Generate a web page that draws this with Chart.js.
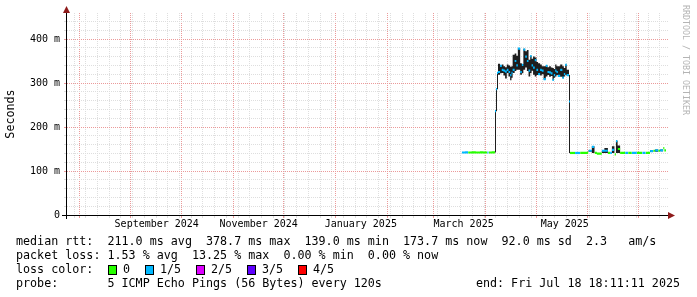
<!DOCTYPE html>
<html>
<head>
<meta charset="utf-8">
<script src="https://cdn.jsdelivr.net/npm/chart.js@4.4.1/dist/chart.umd.min.js"></script>
<style>
    body { margin: 0; background: #fff; overflow: hidden; }
    #cornice { position: relative; width: 697px; height: 297px; font-family: 'DejaVu Sans Mono', monospace; color: #000; overflow: hidden; }
    #grafico { position: absolute; left: 0; top: 0; }
    .riga { position: absolute; font-size: 11.7px; line-height: 14px; white-space: pre; }
    .quadro { position: absolute; width: 7px; height: 8px; border: 1px solid #000; }
    #marca { position: absolute; left: 681px; top: 5px; writing-mode: vertical-rl; font-size: 8.3px; line-height: 10px; color: #b4b4b4; white-space: pre; }
</style>
</head>
<body>
<div id="cornice">
    <canvas id="grafico" width="697" height="297"></canvas>
    <div id="marca">RRDTOOL / TOBI OETIKER</div>
    <div class="riga" style="left:16px; top:234px;">median rtt:  211.0 ms avg  378.7 ms max  139.0 ms min  173.7 ms now  92.0 ms sd  2.3   am/s</div>
    <div class="riga" style="left:16px; top:248px;">packet loss: 1.53 % avg  13.25 % max  0.00 % min  0.00 % now</div>
    <div class="riga" style="left:16px; top:262px;">loss color:</div>
    <div id="legendaPerdite"></div>
    <div class="riga" style="left:16px; top:276px;">probe:       5 ICMP Echo Pings (56 Bytes) every 120s</div>
    <div class="riga" style="right:17px; top:276px;">end: Fri Jul 18 18:11:11 2025</div>
</div>
<script>
// Giorni contati dal 1 gennaio 2025 (negativi = 2024)
const giorni = [
    75.6, 77.6, 79.4, 81.5, 84.0, 86.5, 88.6, 90.8, 91.7, 93.5, 95.46, 96.06, 96.66,
    97.25, 98.5, 99.5, 100.5, 101.5, 102.5, 103.5, 104.5, 105.3, 106.0, 107.2, 108.2, 109.1, 110.5, 111.5,
    112.4, 113.5, 114.5, 115.5, 116.5, 117.3, 118.2, 119.2, 120.2, 121.2, 122.4, 123.4, 124.5, 125.8,
    126.8, 127.8, 128.8, 129.8, 130.6, 131.4, 132.2, 133.0, 134.4, 135.7, 136.6, 137.4, 138.3, 139.66,
    140.26, 143.3, 146.3, 151.3, 153.3, 154.9, 156.3, 159.3, 160.8, 162.9, 164.2, 165.3, 166.8, 167.7,
    168.7, 170.2, 173.2, 175.0, 177.2, 180.2, 183.4, 185.5, 188.1, 190.0, 191.1, 193.0, 194.1, 195.9, 196.6, 197.6
];
// RTT mediano (ms)
const mediana = [
    142, 142.5, 142, 142.5, 142, 142.5, 142, 142, 142, 142.5, 236, 286, 323,
    325, 339, 330, 328, 326, 330, 325, 318, 323, 330, 350, 340, 378, 325, 341,
    376, 360, 350, 328, 361, 340, 335, 352, 330, 320, 330, 328, 309, 339,
    325, 324, 322, 307, 318, 328, 325, 316, 330, 312, 320, 341, 318, 258,
    141, 141, 141, 146, 155, 141, 139.5, 146, 146, 141, 141, 148, 138, 168,
    150, 141, 141, 141, 141, 141, 141, 141, 145, 146, 147, 146, 147, 152, 147, 148
];
// "fumo": ping minimo e massimo nell'intervallo (ms)
const fumoMin = [
    142, 142.5, 142, 142.5, 142, 142.5, 142, 142, 142, 142.5, 142, 236, 286,
    319, 322, 323, 317, 310, 323, 315, 306, 312, 323, 327, 330, 330, 319, 322,
    330, 335, 327, 315, 323, 328, 319, 315, 318, 319, 317, 320, 308, 315,
    318, 314, 316, 306, 312, 315, 318, 315, 314, 311, 315, 319, 316, 141,
    141, 141, 141, 144, 141, 141, 139.5, 141, 141, 141, 141, 141, 138, 141,
    141, 141, 141, 141, 141, 141, 141, 141, 143, 146, 144, 146, 145, 152, 147, 148
];
const fumoMax = [
    142, 142.5, 142, 142.5, 142, 142.5, 142, 142, 142, 142.5, 236, 286, 323,
    344, 340, 342, 338, 336, 342, 340, 337, 338, 364, 367, 362, 379, 345, 343,
    378, 372, 375, 353, 362, 355, 360, 358, 348, 345, 342, 338, 338, 340,
    336, 338, 335, 334, 332, 342, 338, 338, 342, 338, 334, 342, 330, 318,
    141, 141, 141, 147, 156, 141, 139.5, 147, 152, 141, 141, 156, 138, 169,
    158, 141, 141, 141, 141, 141, 141, 141, 147, 146, 149, 146, 149, 152, 147, 148
];
// Ping persi su 5
const perdite = [
    1, 1, 0, 0, 0, 0, 0, 1, 0, 0, 1, 1, 1,
    1, 1, 1, 1, 1, 1, 1, 1, 1, 1, 1, 1, 1, 1, 1,
    1, 1, 1, 1, 1, 1, 1, 1, 1, 1, 1, 1, 1, 1,
    1, 1, 1, 1, 1, 1, 1, 1, 1, 1, 1, 1, 1, 1,
    0, 1, 0, 1, 1, 0, 0, 1, 1, 0, 1, 1, 0, 1,
    0, 0, 1, 0, 1, 0, 1, 0, 1, 0, 1, 0, 1, 0, 0, 0
];

const coloriPerdita = ['#26ff00', '#00b8ff', '#dd00ff', '#5e00ff', '#ff0000'];
const etichettePerdita = ['0', '1/5', '2/5', '3/5', '4/5'];

// Asse x
const inizioMesi = [-153, -122, -92, -61, -31, 0, 31, 59, 90, 120, 151, 181];
const etichetteMesi = ['September 2024', 'November 2024', 'January 2025', 'March 2025', 'May 2025'];
const posEtichette = [-106.6, -45.7, 15.3, 76.7, 137.1];
const xMin = -160.2;
const xMax = 198.8;

// Asse y
const yTacche = [0, 100, 200, 300, 400];
const yEtichette = ['0', '100 m', '200 m', '300 m', '400 m'];
const yMax = 459.1;

const GRIGLIA = '#dedede';
const GRIGLIA_MAGG = '#eb9a9a';
const SPESSORE_MEDIANA = 2.5; // meta altezza della banda mediana, ms

// Legenda dei colori di perdita
const legenda = document.getElementById('legendaPerdite');
const posQuadri = [108, 145, 196, 247, 298];
posQuadri.forEach((x, i) => {
    const q = document.createElement('div');
    q.className = 'quadro';
    q.style.left = x + 'px';
    q.style.top = '265px';
    q.style.background = coloriPerdita[i];
    legenda.appendChild(q);
    const t = document.createElement('div');
    t.className = 'riga';
    t.style.left = (x + 15) + 'px';
    t.style.top = '262px';
    t.textContent = etichettePerdita[i];
    legenda.appendChild(t);
});

// Tacche asse x: settimane (lunedi), inizio mese, etichette a meta mese
const taccheX = [];
for (let d = -156; d <= xMax; d += 7) taccheX.push({ value: d, tipo: 'min' });
inizioMesi.forEach(d => taccheX.push({ value: d, tipo: 'magg' }));
posEtichette.forEach((d, i) => taccheX.push({ value: d, tipo: 'etich', testo: etichetteMesi[i] }));
taccheX.sort((a, b) => a.value - b.value);

const taccheY = [];
for (let v = 0; v <= 440; v += 20) taccheY.push({ value: v });

function coloreX(ctx) {
    if (!ctx.tick) return 'transparent';
    if (ctx.tick.tipo === 'magg') return GRIGLIA_MAGG;
    if (ctx.tick.tipo === 'min') return GRIGLIA;
    return 'transparent';
}
function coloreY(ctx) {
    if (!ctx.tick) return 'transparent';
    return ctx.tick.value % 100 === 0 ? GRIGLIA_MAGG : GRIGLIA;
}

const punti = arr => giorni.map((g, i) => ({ x: g, y: arr[i] }));

// Assi neri con le frecce rosse, come rrdtool
const assi = {
    id: 'assi',
    afterDatasetsDraw(chart) {
        const { ctx, chartArea } = chart;
        const y0 = Math.round(chart.scales.y.getPixelForValue(0)) + 0.5;
        const x0 = chartArea.left - 0.5;
        ctx.save();
        ctx.strokeStyle = '#000';
        ctx.lineWidth = 1;
        ctx.beginPath();
        ctx.moveTo(62, y0);
        ctx.lineTo(670, y0);
        ctx.moveTo(x0, 219);
        ctx.lineTo(x0, 11);
        ctx.stroke();
        ctx.fillStyle = '#8e1b1b';
        ctx.beginPath();
        ctx.moveTo(668, y0 - 3.5);
        ctx.lineTo(675, y0);
        ctx.lineTo(668, y0 + 3.5);
        ctx.closePath();
        ctx.fill();
        ctx.beginPath();
        ctx.moveTo(x0 - 3.5, 13);
        ctx.lineTo(x0, 6);
        ctx.lineTo(x0 + 3.5, 13);
        ctx.closePath();
        ctx.fill();
        ctx.restore();
    }
};

Chart.defaults.font.family = "'DejaVu Sans Mono', monospace";
Chart.defaults.color = '#000';

const invisibile = { stepped: true, borderWidth: 0, borderColor: 'transparent', pointRadius: 0 };

new Chart(document.getElementById('grafico').getContext('2d'), {
    type: 'line',
    data: {
        datasets: [
            // banda della mediana, colorata secondo la perdita (come smokeping)
            Object.assign({ label: 'mediana sotto', data: punti(mediana.map(v => v - SPESSORE_MEDIANA)), fill: false, order: 0 }, invisibile),
            Object.assign({
                label: 'median rtt',
                data: punti(mediana.map(v => v + SPESSORE_MEDIANA)),
                fill: '-1',
                backgroundColor: coloriPerdita[0],
                order: 0,
                segment: { backgroundColor: ctx => coloriPerdita[perdite[ctx.p0DataIndex]] }
            }, invisibile),
            // fumo
            Object.assign({ label: 'fumo min', data: punti(fumoMin), fill: false, order: 1 }, invisibile),
            Object.assign({ label: 'fumo max', data: punti(fumoMax), fill: '-1', backgroundColor: '#1e1e1e', order: 1 }, invisibile)
        ]
    },
    options: {
        responsive: false,
        animation: false,
        devicePixelRatio: 1,
        layout: { padding: { top: 13, right: 29, left: 0, bottom: 0 } },
        plugins: {
            legend: { display: false },
            tooltip: { enabled: false }
        },
        scales: {
            x: {
                type: 'linear',
                min: xMin,
                max: xMax,
                afterBuildTicks: scale => { scale.ticks = taccheX.map(t => Object.assign({}, t)); },
                afterFit: scale => { scale.height = 82; },
                grid: { color: coloreX, tickColor: coloreX, tickLength: 3, lineWidth: 1 },
                border: { display: false, dash: [1, 1] },
                ticks: {
                    autoSkip: false,
                    maxRotation: 0,
                    minRotation: 0,
                    padding: 0,
                    font: { size: 10 },
                    color: '#000',
                    callback: (v, i, t) => t[i].testo || ''
                }
            },
            y: {
                type: 'linear',
                min: 0,
                max: yMax,
                afterBuildTicks: scale => { scale.ticks = taccheY.map(t => Object.assign({}, t)); },
                afterFit: scale => { scale.width = 67; },
                grid: { color: coloreY, tickColor: coloreY, tickLength: 3, lineWidth: 1 },
                border: { display: false, dash: [1, 1] },
                title: {
                    display: true,
                    text: 'Seconds',
                    font: { size: 11.7 },
                    color: '#000',
                    padding: { top: 3.5, bottom: 0 }
                },
                ticks: {
                    autoSkip: false,
                    padding: 4,
                    font: { size: 10 },
                    color: '#000',
                    callback: v => {
                        const k = yTacche.indexOf(v);
                        return k >= 0 ? yEtichette[k] : '';
                    }
                }
            }
        }
    },
    plugins: [assi]
});
</script>
</body>
</html>
